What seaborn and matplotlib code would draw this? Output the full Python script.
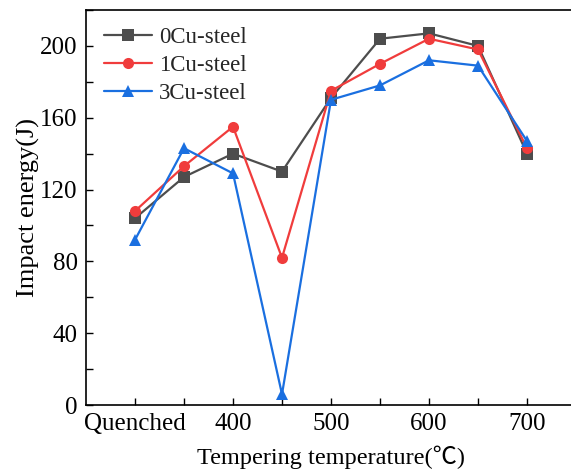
import matplotlib
matplotlib.use("Agg")
import matplotlib.pyplot as plt
import seaborn as sns
import pandas as pd
from matplotlib.ticker import MultipleLocator

temps = ["Quenched", "350", "400", "450", "500", "550", "600", "650", "700"]
tick_labels = ["Quenched", "", "400", "", "500", "", "600", "", "700"]
cu0 = [104, 127, 140, 130, 171, 204, 207, 200, 140]
cu1 = [108, 133, 155, 82, 175, 190, 204, 198, 143]
cu3 = [92, 143, 129, 6, 170, 178, 192, 189, 147]
series_names = ["0Cu-steel", "1Cu-steel", "3Cu-steel"]
colors = ["#4d4d4d", "#f03c3c", "#1a6fe0"]
markers = ["s", "o", "^"]

sns.set_theme(style="ticks")
fam = ["Liberation Serif", "Noto Sans CJK SC", "DejaVu Serif"]
plt.rcParams["font.family"] = fam

fig = plt.figure(figsize=(5.71, 4.70), dpi=100)
ax = fig.add_axes([86 / 571, 65 / 470, 490 / 571, 395 / 470])

for name, vals, c, m in zip(series_names, [cu0, cu1, cu3], colors, markers):
    df = pd.DataFrame({"temp": temps, "energy": vals})
    sns.lineplot(data=df, x="temp", y="energy", ax=ax, color=c, marker=m,
                 markersize=8, markeredgewidth=0, linewidth=1.6, label=name, sort=False)

ax.set_xlim(-1, 9)
ax.set_ylim(0, 220)
ax.set_xticks(range(len(temps)))
ax.set_xticklabels(tick_labels)
ax.yaxis.set_major_locator(MultipleLocator(40))
ax.yaxis.set_minor_locator(MultipleLocator(20))
ax.tick_params(axis="both", which="both", direction="in", labelsize=18, width=1, color="black",
               labelcolor="black")
ax.tick_params(axis="both", which="major", length=5)
ax.tick_params(axis="y", which="minor", length=5)
ax.tick_params(axis="x", pad=6)
ax.tick_params(axis="y", pad=6)
for s in ax.spines.values():
    s.set_color("black")
    s.set_linewidth(1.2)

ax.set_xlabel("Tempering temperature(℃)", fontsize=17.5, color="black", labelpad=7)
ax.set_ylabel("Impact energy(J)", fontsize=19, color="black", labelpad=0)

leg = ax.legend(loc="upper left", frameon=False, fontsize=16.5, bbox_to_anchor=(-0.005, 1.01),
                handlelength=2.1, handletextpad=0.3, labelspacing=0.3)

fig.savefig("out.png", dpi=100)
